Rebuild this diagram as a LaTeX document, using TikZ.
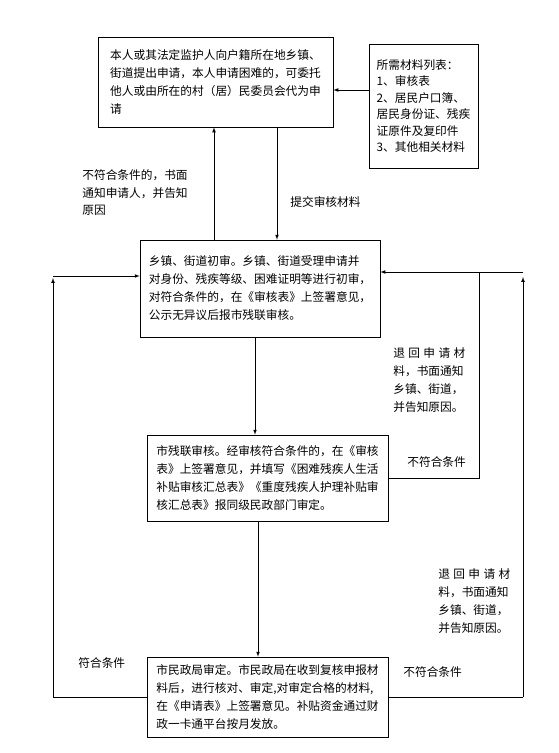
\documentclass[tikz,border=0pt]{standalone}
\usepackage{fontspec}
\setmainfont{Noto Sans CJK SC}
\usetikzlibrary{arrows}

\tikzset{
  stagebox/.style={draw, align=left, inner sep=0pt, font=\fontsize{11.7}{18}\selectfont},
  note/.style={anchor=west, align=left, inner sep=0pt, font=\fontsize{11.7}{18}\selectfont},
  flow/.style={draw, ->, >=latex}
}

\begin{document}
\begin{tikzpicture}[x=1pt, y=-1pt, line width=0.7pt]
\useasboundingbox (0,0) rectangle (559,753);

\node[stagebox, minimum width=235pt, minimum height=90pt] (apply) at (215.5,82)
  {本人或其法定监护人向户籍所在地乡镇、\\街道提出申请，本人申请困难的，可委托\\他人或由所在的村（居）民委员会代为申\\请};
\node[stagebox, font=\fontsize{11.7}{16.5}\selectfont, minimum width=109pt, minimum height=124pt] (materials) at (423.5,106)
  {所需材料列表：\\1、审核表\\2、居民户口簿、\\居民身份证、残疾\\证原件及复印件\\3、其他相关材料};
\node[stagebox, minimum width=240pt, minimum height=97pt] (township) at (260,288.5)
  {乡镇、街道初审。乡镇、街道受理申请并\\对身份、残疾等级、困难证明等进行初审，\\对符合条件的，在《审核表》上签署意见，\\公示无异议后报市残联审核。};
\node[stagebox, minimum width=241pt, minimum height=86pt] (federation) at (267.5,478)
  {市残联审核。经审核符合条件的，在《审核\\表》上签署意见，并填写《困难残疾人生活\\补贴审核汇总表》《重度残疾人护理补贴审\\核汇总表》报同级民政部门审定。};
\node[stagebox, minimum width=241pt, minimum height=80pt] (civil) at (267.5,697)
  {市民政局审定。市民政局在收到复核申报材\\料后，进行核对、审定,对审定合格的材料,\\在《申请表》上签署意见。补贴资金通过财\\政一卡通平台按月发放。};

% labels
\node[note, font=\fontsize{11.7}{17.5}\selectfont] (reject1) at (82,193) {不符合条件的，书面\\通知申请人，并告知\\原因};
\node[note] (submit) at (290,202) {提交审核材料};
\node[note] (return1) at (393,380) {\makebox[72pt][s]{退 回 申 请 材}\\料，书面通知\\乡镇、街道，\\并告知原因。};
\node[note] (fail1) at (407,462) {不符合条件};
\node[note] (return2) at (438,601) {\makebox[72pt][s]{退 回 申 请 材}\\料，书面通知\\乡镇、街道，\\并告知原因。};
\node[note] (pass) at (78,663) {符合条件};
\node[note] (fail2) at (403,672) {不符合条件};

% corners
\coordinate (matin) at ([yshift=16pt]materials.west);
\coordinate (lefttop) at (53,276);
\coordinate (innertop) at (479,272);
\coordinate (outertop) at (523,272);

\path[flow] (matin) -- (matin -| apply.east);
\path[flow] (township.north -| 214,0) -- (apply.south -| 214,0);
\path[flow] (apply.south -| 277,0) -- (township.north -| 277,0);
\path[flow] (township.south -| 255,0) -- (federation.north -| 255,0);
\path[flow] (federation.south -| 258,0) -- (civil.north -| 258,0);

\path[draw] (civil.west) -- (civil.west -| lefttop);
\path[flow] (civil.west -| lefttop) -- ([yshift=-2pt]lefttop);
\path[flow] (lefttop) -- (lefttop -| township.west);

\path[draw] (federation.east) -- (federation.east -| innertop) -- (innertop);
\path[draw] (civil.east) -- (civil.east -| outertop);
\path[flow] (civil.east -| outertop) -- ([yshift=-5pt]outertop);
\path[flow] (outertop) -- (outertop -| township.east);
\end{tikzpicture}
\end{document}
